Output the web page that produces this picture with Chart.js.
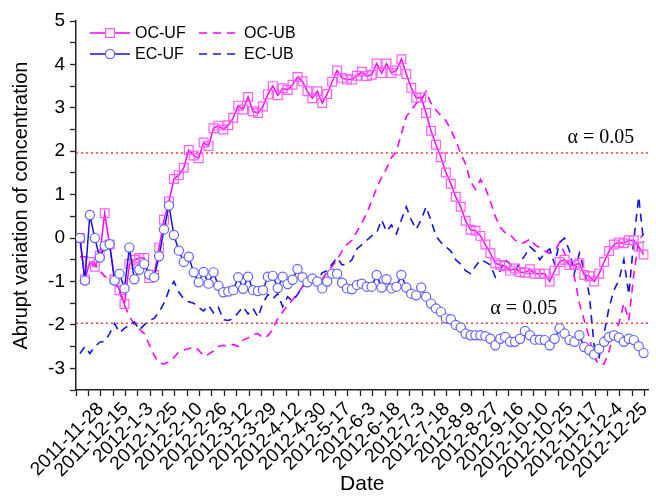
<!DOCTYPE html>
<html>
<head>
<meta charset="utf-8">
<script src="https://cdn.jsdelivr.net/npm/chart.js"></script>
<style>
  html, body { margin: 0; padding: 0; background: #fff; }
  #wrap { width: 656px; height: 503px; }
</style>
</head>
<body>
<div id="wrap"><canvas id="chart" width="656" height="503"></canvas></div>
<script>
// tick labels on the date axis (one every 5 samples)
const dateTicks = [
    '2011-11-28', '2011-12-15', '2012-1-3', '2012-1-25', '2012-2-10', '2012-2-26',
    '2012-3-12', '2012-3-29', '2012-4-12', '2012-4-30', '2012-5-17', '2012-6-3',
    '2012-6-18', '2012-7-3', '2012-7-18', '2012-8-9', '2012-8-27', '2012-9-16',
    '2012-10-10', '2012-10-25', '2012-11-17', '2012-12-4', '2012-12-25',
];

const ocUF = [
    0.0, -0.95, -0.55, -0.66, -0.4, 0.57, -0.15, -0.95, -1.2, -1.52,
    -0.6, -0.5, -0.46, -0.46, -0.92, -0.85, -0.22, 0.42, 0.84, 1.36,
    1.45, 1.62, 2.03, 1.9, 1.84, 2.2, 2.12, 2.53, 2.59, 2.5,
    2.6, 2.77, 3.05, 2.96, 3.25, 2.92, 2.88, 3.03, 3.31, 3.5,
    3.29, 3.45, 3.41, 3.53, 3.71, 3.61, 3.38, 3.22, 3.38, 3.11,
    3.32, 3.6, 3.86, 3.69, 3.65, 3.65, 3.74, 3.83, 3.73, 3.76,
    4.02, 3.8, 4.02, 3.8, 3.86, 4.12, 3.78, 3.46, 3.23, 3.24,
    2.88, 2.47, 2.15, 1.86, 1.51, 1.25, 0.95, 0.72, 0.4, 0.19,
    0.17, 0.05, -0.15, -0.35, -0.58, -0.62, -0.65, -0.75, -0.7, -0.78,
    -0.8, -0.72, -0.82, -0.82, -0.82, -1.0, -0.75, -0.55, -0.5, -0.62,
    -0.62, -0.58, -0.85, -0.88, -1.0, -0.82, -0.55, -0.3, -0.15, -0.1,
    -0.12, -0.05, -0.05, -0.2, -0.38,
];

const ocUB = [
    -0.43, -0.43, -0.45, -0.6, -0.75, -0.88, -0.95, -1.05, -1.25, -1.55,
    -1.8, -2.0, -2.1, -2.2, -2.45, -2.7, -2.88, -2.9, -2.85, -2.75,
    -2.62, -2.58, -2.55, -2.5, -2.58, -2.72, -2.68, -2.6, -2.5, -2.47,
    -2.49, -2.45, -2.5, -2.35, -2.3, -2.22, -2.2, -2.3, -2.25, -2.1,
    -1.85, -1.7, -1.55, -1.42, -1.28, -1.12, -1.05, -1.0, -1.03, -0.95,
    -0.78, -0.65, -0.5, -0.3, -0.15, -0.05, 0.15, 0.35, 0.57, 0.85,
    1.15, 1.4, 1.6, 1.85, 2.0, 2.4, 2.8, 2.95, 3.1, 3.18,
    3.38, 3.1, 2.95, 2.82, 2.7, 2.5, 2.25, 1.95, 1.7, 1.3,
    1.12, 1.35, 1.15, 0.85, 0.5, 0.25, 0.12, 0.08, -0.05, -0.12,
    -0.1, -0.02, -0.15, -0.22, -0.3, -0.35, -0.3, -0.1, -0.35, -0.6,
    -0.9, -1.5, -1.9, -2.3, -2.75, -2.92, -2.9, -2.6, -2.2, -1.97,
    -1.5, -1.9, -0.85, -0.05, 0.1,
];

const ecUF = [
    0.0, -0.98, 0.53, 0.0, -0.45, -0.18, -0.14, -0.98, -0.82, -1.16,
    -0.22, -0.95, -0.73, -0.6, -0.84, -0.9, -0.42, 0.2, 0.75, 0.07,
    -0.29, -0.55, -0.43, -0.79, -1.02, -0.78, -1.05, -0.79, -1.1, -1.25,
    -1.23, -1.2, -0.9, -1.17, -0.89, -1.2, -1.22, -1.2, -0.89, -0.87,
    -1.15, -0.89, -1.06, -0.96, -0.71, -0.9, -1.02, -0.93, -1.0, -1.16,
    -1.0, -0.82, -0.82, -1.03, -1.16, -1.18, -1.08, -1.05, -1.12, -1.12,
    -0.85, -1.14, -0.95, -1.16, -1.12, -0.85, -1.14, -1.28, -1.32, -1.14,
    -1.35, -1.51, -1.62, -1.7, -1.85, -1.87, -2.0, -2.06, -2.2, -2.24,
    -2.24, -2.24, -2.26, -2.32, -2.47, -2.32, -2.28, -2.39, -2.39, -2.32,
    -2.14, -2.24, -2.34, -2.34, -2.35, -2.47, -2.32, -2.08, -2.2, -2.35,
    -2.39, -2.24, -2.51, -2.58, -2.68, -2.55, -2.39, -2.28, -2.24, -2.29,
    -2.39, -2.32, -2.35, -2.49, -2.65,
];

const ecUB = [
    -2.66, -2.5, -2.66, -2.5, -2.4, -2.38, -2.2, -1.97, -2.18, -2.08,
    -2.0, -1.93, -2.12, -2.0, -1.9, -1.85, -1.7, -1.5, -1.2, -1.0,
    -1.25, -1.4, -1.47, -1.5, -1.6, -1.68, -1.55, -1.72, -1.6, -1.88,
    -1.9, -1.85, -1.72, -1.58, -1.75, -1.62, -1.82, -1.5, -1.3, -1.4,
    -1.28, -1.58, -1.35, -1.45, -1.3, -1.12, -0.95, -0.85, -0.97, -0.8,
    -0.75, -0.6, -0.45, -0.62, -0.6, -0.5, -0.25, -0.15, -0.05, 0.05,
    0.12, 0.42, 0.15, 0.3, 0.1, 0.42, 0.72, 0.42, 0.2, 0.42,
    0.72, 0.4, 0.05, -0.1, -0.2, -0.3, -0.5, -0.6, -0.75, -0.82,
    -0.65, -0.5, -0.55, -0.62, -0.9, -0.75, -0.5, -0.6, -0.75, -0.55,
    -0.4, -0.2, -0.3, -0.5, -0.35, -0.25, -0.6, -0.1, 0.0, -0.3,
    -0.8, -0.35, -0.74, -1.3, -2.5, -2.74, -2.2, -1.6, -1.2, -0.97,
    -0.5, -1.3, -0.05, 0.95, -0.1,
];

const alphaLevel = 1.96;

const toXY = (arr) => arr.map((v, i) => ({ x: i, y: v }));

const X_MIN = -0.8;
const X_MAX = 115;

const SANS = "'Liberation Sans', Arial, sans-serif";
const SERIF = "'Liberation Serif', 'Times New Roman', serif";

const MAGENTA = '#ff00ff';
const BLUE = '#1414e6';

// legend in the top left corner, two columns like the original
const legendPlugin = {
    id: 'cornerLegend',
    afterDraw(chart) {
        const ctx = chart.ctx;
        const slots = [
            { ds: 0, x: 90, y: 33 }, { ds: 1, x: 199, y: 33 },
            { ds: 2, x: 90, y: 54 }, { ds: 3, x: 199, y: 54 },
        ];
        ctx.save();
        ctx.font = `16px ${SANS}`;
        ctx.textBaseline = 'middle';
        for (const s of slots) {
            const d = chart.data.datasets[s.ds];
            const len = 40;
            ctx.strokeStyle = d.borderColor;
            ctx.lineWidth = d.borderWidth;
            ctx.setLineDash(d.borderDash || []);
            ctx.beginPath();
            ctx.moveTo(s.x, s.y);
            ctx.lineTo(s.x + len, s.y);
            ctx.stroke();
            ctx.setLineDash([]);
            if (d.pointRadius > 0) {
                ctx.fillStyle = '#fff';
                ctx.strokeStyle = d.pointBorderColor;
                ctx.lineWidth = d.pointBorderWidth;
                const cx = s.x + len / 2;
                ctx.beginPath();
                if (d.pointStyle === 'rect') {
                    const h = d.pointRadius * Math.SQRT1_2;
                    ctx.rect(cx - h, s.y - h, 2 * h, 2 * h);
                } else {
                    ctx.arc(cx, s.y, d.pointRadius, 0, Math.PI * 2);
                }
                ctx.fill();
                ctx.stroke();
            }
            ctx.fillStyle = '#000';
            ctx.fillText(d.label, s.x + len + 5, s.y + 1);
        }
        ctx.restore();
    },
};

// "α = 0.05" notes next to the significance lines
const alphaNotes = [
    { x: 98.6, y: 2.3 },
    { x: 83, y: -1.62 },
];

const alphaPlugin = {
    id: 'alphaNotes',
    afterDatasetsDraw(chart) {
        const { ctx, scales } = chart;
        ctx.save();
        ctx.font = `20px ${SERIF}`;
        ctx.fillStyle = '#000';
        ctx.textBaseline = 'middle';
        for (const n of alphaNotes) {
            ctx.fillText('\u03b1 = 0.05', scales.x.getPixelForValue(n.x), scales.y.getPixelForValue(n.y));
        }
        ctx.restore();
    },
};

const refLine = (y) => ({
    label: 'alpha',
    data: [{ x: X_MIN, y }, { x: X_MAX, y }],
    borderColor: '#ff3b3b',
    borderWidth: 1.5,
    borderDash: [2, 3],
    pointRadius: 0,
    order: 10,
});

const chart = new Chart(document.getElementById('chart').getContext('2d'), {
    type: 'line',
    data: {
        datasets: [
            {
                label: 'OC-UF',
                data: toXY(ocUF),
                borderColor: MAGENTA,
                borderWidth: 1.5,
                pointStyle: 'rect',
                pointRadius: 6.2,
                pointBorderColor: '#ff5cff',
                pointBorderWidth: 1.2,
                pointBackgroundColor: 'rgba(255,255,255,0)',
                order: 2,
            },
            {
                label: 'OC-UB',
                data: toXY(ocUB),
                borderColor: MAGENTA,
                borderWidth: 1.6,
                borderDash: [8, 6],
                pointRadius: 0,
                order: 4,
            },
            {
                label: 'EC-UF',
                data: toXY(ecUF),
                borderColor: BLUE,
                borderWidth: 1.5,
                pointStyle: 'circle',
                pointRadius: 4.6,
                pointBorderColor: '#6262ff',
                pointBorderWidth: 1.2,
                pointBackgroundColor: '#fff',
                order: 1,
            },
            {
                label: 'EC-UB',
                data: toXY(ecUB),
                borderColor: BLUE,
                borderWidth: 1.6,
                borderDash: [8, 6],
                pointRadius: 0,
                order: 3,
            },
            refLine(alphaLevel),
            refLine(-alphaLevel),
        ],
    },
    options: {
        responsive: false,
        animation: false,
        devicePixelRatio: 1,
        layout: { padding: { top: 21, right: 1, left: 0, bottom: 0 } },
        plugins: {
            legend: { display: false },
            tooltip: { enabled: false },
        },
        elements: { line: { tension: 0 } },
        scales: {
            x: {
                type: 'linear',
                min: X_MIN,
                max: X_MAX,
                afterBuildTicks: (scale) => {
                    const ticks = [];
                    for (let v = X_MIN; v <= X_MAX + 1e-9; v += 2.5) {
                        ticks.push({ value: v });
                    }
                    scale.ticks = ticks;
                },
                afterFit: (scale) => {
                    scale.height = 113;
                    scale.paddingLeft = 0;
                    scale.paddingRight = 0;
                },
                border: { display: true, color: '#222', width: 1.5 },
                grid: { drawOnChartArea: false, drawTicks: true, tickLength: 6, tickColor: '#222', tickWidth: 1.3 },
                ticks: {
                    autoSkip: false,
                    maxRotation: 45,
                    minRotation: 45,
                    padding: 2,
                    color: '#000',
                    font: { family: SANS, size: 19 },
                    callback: (value, index) => {
                        if (index >= 2 && index % 2 === 0) {
                            return dateTicks[index / 2 - 1] ?? '';
                        }
                        return '';
                    },
                },
                title: {
                    display: true,
                    text: 'Date',
                    color: '#000',
                    font: { family: SANS, size: 21 },
                    padding: { top: 0, bottom: 6 },
                },
            },
            y: {
                min: -3.5,
                max: 5,
                afterBuildTicks: (scale) => {
                    const ticks = [];
                    for (let v = -3.5; v <= 5 + 1e-9; v += 0.5) {
                        ticks.push({ value: v });
                    }
                    scale.ticks = ticks;
                },
                afterFit: (scale) => {
                    scale.width = 76;
                    scale.paddingTop = 0;
                    scale.paddingBottom = 0;
                },
                border: { display: true, color: '#222', width: 1.5 },
                grid: { drawOnChartArea: false, drawTicks: true, tickLength: 6, tickColor: '#222', tickWidth: 1.3 },
                ticks: {
                    autoSkip: false,
                    padding: 5,
                    color: '#000',
                    font: { family: SANS, size: 19 },
                    callback: (value) => (Number.isInteger(value) ? String(value) : ''),
                },
                title: {
                    display: true,
                    text: 'Abrupt variation of concentration',
                    color: '#000',
                    font: { family: SANS, size: 20 },
                    padding: { top: 9, bottom: 0 },
                },
            },
        },
    },
    plugins: [legendPlugin, alphaPlugin],
});
</script>
</body>
</html>
